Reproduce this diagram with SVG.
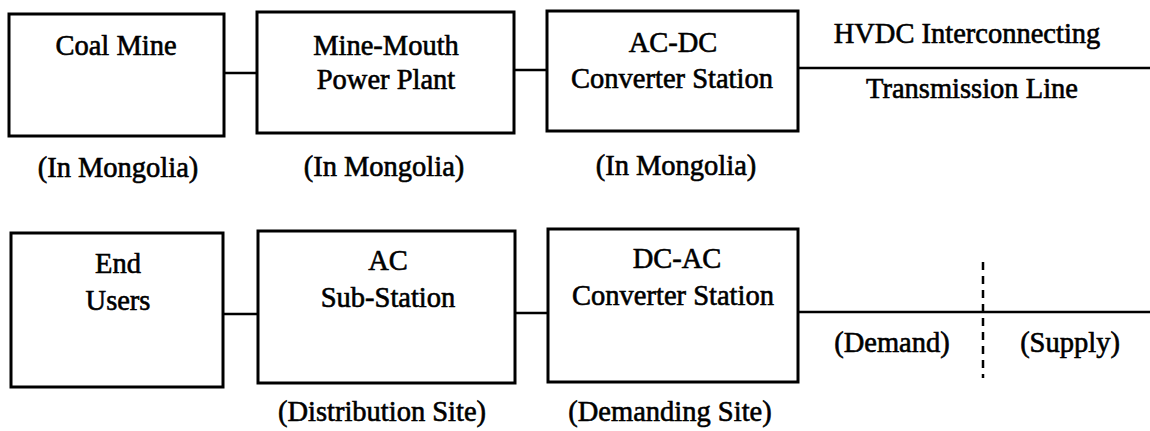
<svg xmlns="http://www.w3.org/2000/svg" width="1150" height="431" viewBox="0 0 1150 431">
<style>
.box{fill:none;stroke:#000;stroke-width:3}
.con{fill:none;stroke:#000;stroke-width:2.5}
.dash{fill:none;stroke:#000;stroke-width:2.5;stroke-dasharray:8 6}
text{font-family:"Liberation Serif","Times New Roman",serif;font-size:28.5px;fill:#000;stroke:#000;stroke-width:0.6;text-anchor:middle}
</style>
<rect width="1150" height="431" fill="#fff"/>
<g id="connectors">
<line class="con" x1="224" y1="73" x2="257" y2="73"/>
<line class="con" x1="514" y1="70" x2="547" y2="70"/>
<line class="con" x1="798" y1="68" x2="1150" y2="68"/>
<line class="con" x1="223" y1="314" x2="258" y2="314"/>
<line class="con" x1="515" y1="313" x2="548" y2="313"/>
<line class="con" x1="798" y1="312" x2="1150" y2="312"/>
<line class="dash" x1="983" y1="262" x2="983" y2="378"/>
</g>
<g id="coal-mine">
<rect class="box" x="9" y="14" width="215" height="122"/>
<text x="116" y="55">Coal Mine</text>
</g>
<g id="coal-mine-label"><text x="118" y="177">(In Mongolia)</text></g>
<g id="power-plant">
<rect class="box" x="257" y="12" width="257" height="121"/>
<text x="386" y="55">Mine-Mouth</text>
<text x="386" y="89">Power Plant</text>
</g>
<g id="power-plant-label"><text x="384" y="176">(In Mongolia)</text></g>
<g id="acdc">
<rect class="box" x="547" y="11" width="251" height="120"/>
<text x="673" y="52">AC-DC</text>
<text x="672" y="88">Converter Station</text>
</g>
<g id="acdc-label"><text x="676" y="175">(In Mongolia)</text></g>
<g id="hvdc-label">
<text x="967" y="43">HVDC Interconnecting</text>
<text x="972" y="98">Transmission Line</text>
</g>
<g id="end-users">
<rect class="box" x="11" y="233" width="212" height="154"/>
<text x="118" y="273">End</text>
<text x="118" y="310">Users</text>
</g>
<g id="ac-substation">
<rect class="box" x="258" y="231" width="257" height="152"/>
<text x="388" y="270">AC</text>
<text x="388" y="307">Sub-Station</text>
</g>
<g id="ac-substation-label"><text x="382" y="421">(Distribution Site)</text></g>
<g id="dcac">
<rect class="box" x="548" y="229" width="250" height="153"/>
<text x="677" y="268">DC-AC</text>
<text x="673" y="305">Converter Station</text>
</g>
<g id="dcac-label"><text x="670" y="421">(Demanding Site)</text></g>
<g id="demand-label"><text x="892" y="352">(Demand)</text></g>
<g id="supply-label"><text x="1070" y="352">(Supply)</text></g>
</svg>
